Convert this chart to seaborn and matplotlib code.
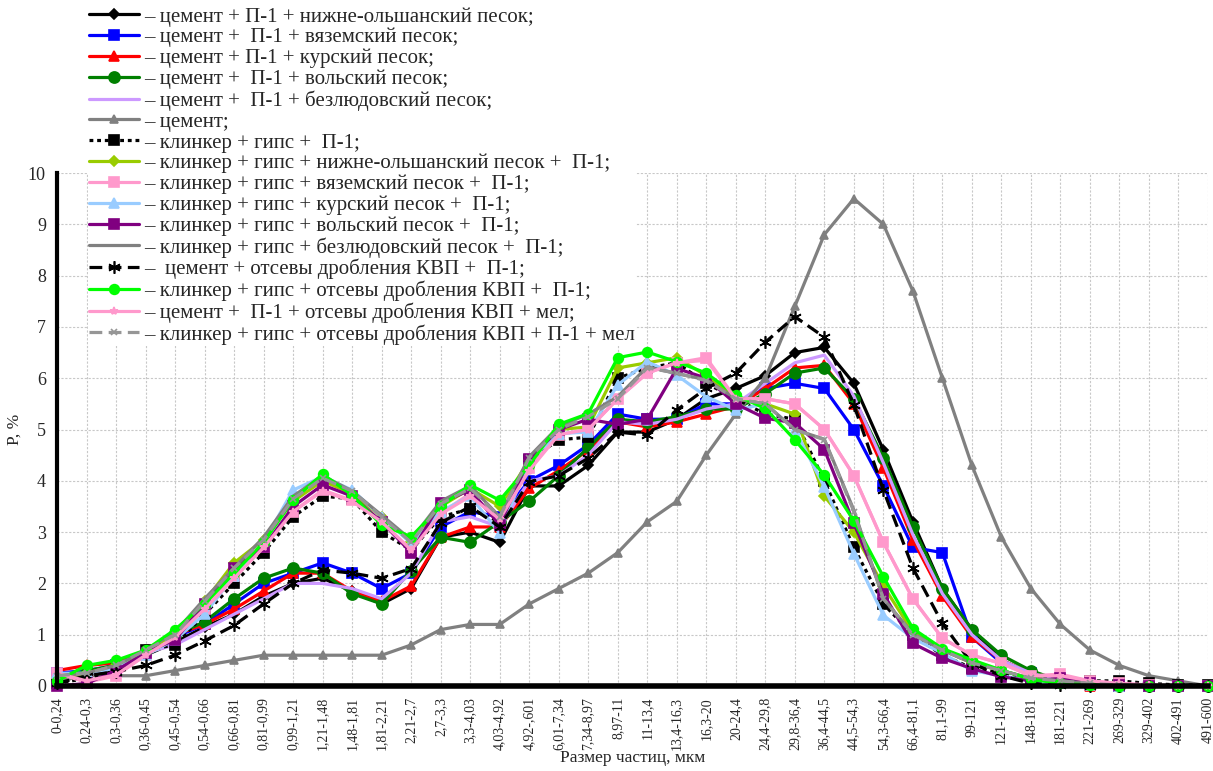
import numpy as np
import pandas as pd
import seaborn as sns
import matplotlib.pyplot as plt

# размеры частиц, мкм
sizes = ["0-0,24", "0,24-0,3", "0,3-0,36", "0,36-0,45", "0,45-0,54", "0,54-0,66",
         "0,66-0,81", "0,81-0,99", "0,99-1,21", "1,21-1,48", "1,48-1,81", "1,81-2,21",
         "2,21-2,7", "2,7-3,3", "3,3-4,03", "4,03-4,92", "4,92-,601", "6,01-7,34",
         "7,34-8,97", "8,97-11", "11-13,4", "13,4-16,3", "16,3-20", "20-24,4",
         "24,4-29,8", "29,8-36,4", "36,4-44,5", "44,5-54,3", "54,3-66,4", "66,4-81,1",
         "81,1-99", "99-121", "121-148", "148-181", "181-221", "221-269", "269-329",
         "329-402", "402-491", "491-600"]

# P, % для каждой смеси
c_nol = [0.1, 0.2, 0.3, 0.6, 0.85, 1.15, 1.4, 1.75, 2.0, 2.1, 1.85, 1.6, 1.9, 2.9, 3.0, 2.8,
         3.9, 3.9, 4.3, 4.95, 4.95, 5.2, 5.6, 5.8, 6.05, 6.5, 6.6, 5.9, 4.6, 3.2, 1.9, 1.1,
         0.5, 0.25, 0.1, 0.05, 0.02, 0.0, 0.0, 0.0]
c_vyaz = [0.25, 0.3, 0.4, 0.65, 0.95, 1.2, 1.6, 2.0, 2.2, 2.4, 2.2, 1.9, 2.2, 3.1, 3.4, 3.3,
          4.0, 4.3, 4.7, 5.3, 5.2, 5.2, 5.5, 5.5, 5.8, 5.9, 5.8, 5.0, 3.9, 2.7, 2.6, 0.95,
          0.45, 0.25, 0.1, 0.03, 0.0, 0.0, 0.0, 0.0]
c_kursk = [0.3, 0.4, 0.45, 0.7, 1.0, 1.2, 1.5, 1.85, 2.2, 2.2, 1.85, 1.65, 1.95, 2.9, 3.1, 3.1,
           3.85, 4.2, 4.6, 5.15, 5.05, 5.15, 5.3, 5.45, 5.8, 6.2, 6.25, 5.5, 4.25, 2.85, 1.75,
           0.95, 0.5, 0.25, 0.1, 0.0, 0.0, 0.0, 0.0, 0.0]
c_volsk = [0.1, 0.3, 0.4, 0.7, 1.0, 1.25, 1.7, 2.1, 2.3, 2.2, 1.8, 1.6, 2.25, 2.9, 2.8, 3.2,
           3.6, 4.1, 4.65, 5.2, 5.15, 5.25, 5.4, 5.4, 5.7, 6.1, 6.2, 5.6, 4.45, 3.1, 1.9, 1.1,
           0.6, 0.3, 0.1, 0.05, 0.0, 0.0, 0.0, 0.0]
c_bezl = [0.2, 0.25, 0.35, 0.65, 0.8, 1.1, 1.4, 1.7, 2.0, 2.0, 1.9, 1.7, 2.2, 3.2, 3.3, 3.1,
          4.0, 4.1, 4.5, 5.15, 5.1, 5.2, 5.4, 5.5, 5.9, 6.3, 6.45, 5.65, 4.35, 2.95, 1.8, 1.0,
          0.5, 0.25, 0.1, 0.03, 0.0, 0.0, 0.0, 0.0]
cement = [0.1, 0.2, 0.2, 0.2, 0.3, 0.4, 0.5, 0.6, 0.6, 0.6, 0.6, 0.6, 0.8, 1.1, 1.2, 1.2,
          1.6, 1.9, 2.2, 2.6, 3.2, 3.6, 4.5, 5.3, 6.0, 7.4, 8.8, 9.5, 9.0, 7.7, 6.0, 4.3,
          2.9, 1.9, 1.2, 0.7, 0.4, 0.2, 0.1, 0.0]
k_p1 = [0.05, 0.15, 0.3, 0.7, 0.8, 1.4, 2.0, 2.6, 3.3, 3.7, 3.65, 3.0, 2.65, 3.3, 3.45, 3.2,
        4.4, 4.8, 4.85, 6.0, 6.2, 6.3, 5.9, 5.6, 5.3, 5.2, 4.0, 2.7, 1.6, 1.0, 0.6, 0.35,
        0.25, 0.15, 0.12, 0.1, 0.1, 0.05, 0.02, 0.02]
k_nol = [0.15, 0.25, 0.4, 0.65, 1.0, 1.65, 2.4, 2.85, 3.6, 4.0, 3.75, 3.3, 2.8, 3.5, 3.85, 3.5,
         4.4, 5.0, 5.05, 6.2, 6.3, 6.4, 6.05, 5.6, 5.5, 5.3, 3.7, 3.0, 1.95, 1.05, 0.7, 0.45,
         0.3, 0.15, 0.1, 0.05, 0.02, 0.0, 0.0, 0.0]
k_vyaz = [0.25, 0.07, 0.2, 0.6, 0.95, 1.5, 2.15, 2.7, 3.4, 3.82, 3.62, 3.2, 2.65, 3.37, 3.75, 3.23,
          4.25, 4.9, 5.0, 5.6, 6.1, 6.3, 6.4, 5.6, 5.6, 5.5, 5.0, 4.1, 2.8, 1.7, 0.93, 0.6,
          0.44, 0.2, 0.23, 0.1, 0.05, 0.02, 0.0, 0.0]
k_kursk = [0.25, 0.25, 0.35, 0.6, 0.9, 1.4, 2.15, 2.8, 3.82, 4.08, 3.82, 3.3, 2.78, 3.4, 3.7, 2.98,
           4.4, 4.92, 4.95, 5.87, 6.32, 6.06, 5.64, 5.38, 5.5, 5.0, 3.88, 2.58, 1.38, 0.93, 0.64,
           0.3, 0.2, 0.1, 0.05, 0.02, 0.0, 0.0, 0.0, 0.0]
k_volsk = [0.0, 0.05, 0.3, 0.65, 0.9, 1.6, 2.3, 2.7, 3.5, 3.92, 3.7, 3.2, 2.6, 3.57, 3.82, 3.14,
           4.42, 5.0, 5.2, 5.1, 5.2, 6.19, 6.0, 5.5, 5.22, 5.13, 4.61, 3.17, 1.8, 0.83, 0.54,
           0.34, 0.18, 0.1, 0.15, 0.05, 0.02, 0.0, 0.0, 0.0]
k_bezl = [0.2, 0.25, 0.4, 0.7, 1.05, 1.7, 2.3, 2.9, 3.7, 4.1, 3.8, 3.33, 2.85, 3.6, 3.9, 3.3,
          4.47, 5.06, 5.3, 5.64, 6.22, 6.09, 5.97, 5.6, 5.5, 5.0, 4.81, 3.43, 1.7, 1.02, 0.7,
          0.45, 0.3, 0.15, 0.1, 0.05, 0.02, 0.0, 0.0, 0.0]
c_kvp = [0.05, 0.2, 0.28, 0.4, 0.6, 0.88, 1.18, 1.6, 2.0, 2.26, 2.2, 2.1, 2.29, 3.18, 3.5, 3.1,
         3.98, 4.1, 4.44, 4.95, 4.89, 5.38, 5.8, 6.1, 6.7, 7.2, 6.8, 5.48, 3.82, 2.3, 1.22,
         0.44, 0.2, 0.05, 0.02, 0.0, 0.0, 0.0, 0.0, 0.0]
k_kvp = [0.1, 0.4, 0.5, 0.7, 1.1, 1.6, 2.2, 2.8, 3.63, 4.13, 3.72, 3.14, 2.91, 3.5, 3.92, 3.62,
         4.3, 5.1, 5.31, 6.4, 6.51, 6.32, 6.1, 5.67, 5.41, 4.8, 4.11, 3.22, 2.13, 1.12, 0.73,
         0.51, 0.31, 0.13, 0.05, 0.02, 0.0, 0.0, 0.0, 0.0]
c_kvp_mel = [0.25, 0.1, 0.22, 0.6, 0.95, 1.5, 2.1, 2.7, 3.4, 3.8, 3.6, 3.2, 2.65, 3.35, 3.7, 3.25,
             4.2, 4.9, 5.0, 5.6, 6.1, 6.3, 6.35, 5.6, 5.6, 5.5, 5.0, 4.1, 2.8, 1.7, 0.93, 0.6,
             0.44, 0.2, 0.2, 0.1, 0.05, 0.02, 0.0, 0.0]
k_kvp_mel = [0.2, 0.25, 0.4, 0.7, 1.0, 1.65, 2.3, 2.85, 3.65, 4.05, 3.8, 3.3, 2.8, 3.55, 3.85, 3.3,
             4.45, 5.0, 5.25, 5.6, 6.2, 6.1, 5.95, 5.6, 5.5, 5.0, 4.8, 3.4, 1.7, 1.0, 0.7,
             0.45, 0.3, 0.15, 0.1, 0.05, 0.02, 0.0, 0.0, 0.0]

series = [
    ("– цемент + П-1 + нижне-ольшанский песок;", c_nol, "#000000", "-", "D", 5),
    ("– цемент +  П-1 + вяземский песок;", c_vyaz, "#0000FF", "-", "s", 7),
    ("– цемент + П-1 + курский песок;", c_kursk, "#FF0000", "-", "^", 7),
    ("– цемент +  П-1 + вольский песок;", c_volsk, "#008000", "-", "o", 8),
    ("– цемент +  П-1 + безлюдовский песок;", c_bezl, "#CC99FF", "-", None, 0),
    ("– цемент;", cement, "#808080", "-", "^", 6),
    ("– клинкер + гипс +  П-1;", k_p1, "#000000", (0, (1.2, 1.2)), "s", 7),
    ("– клинкер + гипс + нижне-ольшанский песок +  П-1;", k_nol, "#99CC00", "-", "D", 5),
    ("– клинкер + гипс + вяземский песок +  П-1;", k_vyaz, "#FF99CC", "-", "s", 7),
    ("– клинкер + гипс + курский песок +  П-1;", k_kursk, "#99CCFF", "-", "^", 7),
    ("– клинкер + гипс + вольский песок +  П-1;", k_volsk, "#800080", "-", "s", 7),
    ("– клинкер + гипс + безлюдовский песок +  П-1;", k_bezl, "#808080", "-", None, 0),
    ("–  цемент + отсевы дробления КВП +  П-1;", c_kvp, "#000000", (0, (4, 2)), (6, 2, 0), 9),
    ("– клинкер + гипс + отсевы дробления КВП +  П-1;", k_kvp, "#00FF00", "-", "o", 7),
    ("– цемент +  П-1 + отсевы дробления КВП + мел;", c_kvp_mel, "#FF99CC", "-", "*", 6),
    ("– клинкер + гипс + отсевы дробления КВП + П-1 + мел", k_kvp_mel, "#969696", (0, (4, 2)), "x", 5),
]

sns.set_style("white")
plt.rcParams['font.family'] = ['Liberation Serif', 'DejaVu Serif']

fig = plt.figure(figsize=(12.13, 7.71), dpi=100)
ax = fig.add_axes([57 / 1213, 1 - 686 / 771, 1151 / 1213, 513 / 771])

pos = np.arange(len(sizes))
for label, vals, color, ls, marker, ms in series:
    df = pd.DataFrame({"x": pos, "y": vals})
    sns.lineplot(data=df, x="x", y="y", ax=ax, color=color, linestyle=ls, linewidth=2.3,
                 marker=marker, markersize=ms, markeredgecolor=color, markerfacecolor=color,
                 markeredgewidth=1.2, label=label, clip_on=False)

ax.set_xlim(0, len(sizes) - 1)
ax.set_ylim(0, 10)
ax.set_xticks(pos)
ax.set_xticklabels(sizes, rotation=90, fontsize=10)
ax.set_yticks(range(0, 11))
ax.tick_params(axis="y", labelsize=13, direction="out", length=5, width=1.5, color="black", pad=3)
ax.tick_params(axis="x", direction="out", length=4, width=1.5, color="black", pad=4)
ax.grid(True, color="#c8c8c8", linestyle=(0, (2, 1.5)), linewidth=0.8)
ax.set_axisbelow(True)

for s in ["top", "right"]:
    ax.spines[s].set_visible(False)
ax.spines["left"].set_linewidth(3)
ax.spines["bottom"].set_linewidth(4)
ax.spines["left"].set_color("black")
ax.spines["bottom"].set_color("black")

ax.set_xlabel("Размер частиц, мкм", fontsize=12.5, labelpad=0)
ax.set_ylabel("P, %", fontsize=12.5, labelpad=4)

leg = ax.legend(loc="upper left", bbox_to_anchor=(88 / 1213, 1 - 6 / 771),
                bbox_transform=fig.transFigure, fontsize=15, frameon=True,
                handlelength=2.4, handletextpad=0.25, labelspacing=0.06,
                borderpad=0.05, borderaxespad=0)
leg.get_frame().set_facecolor("white")
leg.get_frame().set_edgecolor("none")
leg.get_frame().set_alpha(1)
leg.set_zorder(10)

fig.savefig("out.png", dpi=100)
